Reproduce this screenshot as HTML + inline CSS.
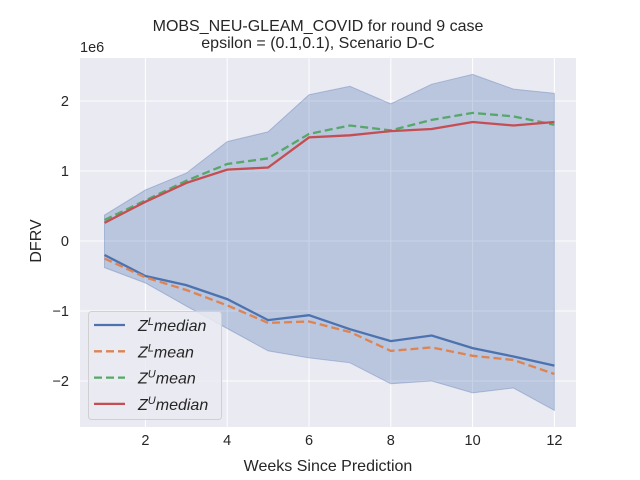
<!DOCTYPE html>
<html><head><meta charset="utf-8"><style>
body{margin:0;background:#fff;}
svg{display:block;font-family:"Liberation Sans",Arial,sans-serif;}
</style></head><body>
<svg id="c" width="640" height="480" viewBox="0 0 640 480"></svg>
<script>
const weeks=[1,2,3,4,5,6,7,8,9,10,11,12];
const zlMedian=[-0.2,-0.5,-0.63,-0.83,-1.13,-1.06,-1.26,-1.43,-1.35,-1.53,-1.65,-1.78];
const zlMean=[-0.25,-0.52,-0.7,-0.92,-1.17,-1.15,-1.3,-1.57,-1.52,-1.64,-1.7,-1.9];
const zuMean=[0.3,0.58,0.86,1.1,1.18,1.53,1.65,1.58,1.73,1.83,1.78,1.66];
const zuMedian=[0.26,0.56,0.83,1.02,1.05,1.48,1.51,1.57,1.6,1.7,1.65,1.7];
const bandUpper=[0.37,0.73,0.97,1.42,1.56,2.09,2.21,1.96,2.24,2.38,2.17,2.11];
const bandLower=[-0.38,-0.6,-0.93,-1.25,-1.57,-1.67,-1.74,-2.04,-2.0,-2.17,-2.1,-2.42];
const xTicks=[2,4,6,8,10,12];
const yTicks=[-2,-1,0,1,2];
const yTickLabels=["\u22122","\u22121","0","1","2"];

const L=80,R=576,T=58,B=427;
const X=v=>104.5+(v-1)*40.9;
const Y=v=>241-v*70;
const svg=document.getElementById('c');
const NS='http://www.w3.org/2000/svg';
function mk(tag,attrs,parent){const e=document.createElementNS(NS,tag);for(const k in attrs)e.setAttribute(k,attrs[k]);(parent||svg).appendChild(e);return e;}

const bg=mk('rect',{x:L,y:T,width:R-L,height:B-T,fill:'#eaeaf2'});


xTicks.forEach(t=>{
  const g=mk('line',{x1:X(t),x2:X(t),y1:T,y2:B,stroke:'#fff','stroke-width':1});
  
  
  const tx=mk('text',{x:X(t),y:B+18,'text-anchor':'middle','font-size':14.5,fill:'#262626'});tx.textContent=t;
  
  
});
yTicks.forEach((t,i)=>{
  const g=mk('line',{x1:L,x2:R,y1:Y(t),y2:Y(t),stroke:'#fff','stroke-width':1});
  
  
  const tx=mk('text',{x:L-11,y:Y(t)+5,'text-anchor':'end','font-size':14.5,fill:'#262626'});tx.textContent=yTickLabels[i];
  
  
});
let pts=weeks.map((w,i)=>X(w)+','+Y(bandUpper[i]));
pts=pts.concat(weeks.slice().reverse().map((w,j)=>{const i=weeks.length-1-j;return X(w)+','+Y(bandLower[i]);}));
const band=mk('polygon',{points:pts.join(' '),fill:'rgba(76,114,176,0.3)',stroke:'rgba(76,114,176,0.35)','stroke-width':1});


function line(arr,color,dash,name){
  const p=mk('polyline',{points:weeks.map((w,i)=>X(w)+','+Y(arr[i])).join(' '),fill:'none',stroke:color,'stroke-width':2.3,'stroke-dasharray':dash||'none'});
  
  
}
line(zlMedian,'#4c72b0',null,'zl-median-line');
line(zlMean,'#dd8452','8,4','zl-mean-line');
line(zuMean,'#55a868','8,4','zu-mean-line');
line(zuMedian,'#c44e52',null,'zu-median-line');

const lg=mk('rect',{x:88.5,y:311.5,width:133,height:108,rx:3,fill:'rgba(234,234,242,0.85)',stroke:'#d0d0d0'});


const entries=[['#4c72b0',null,'L','median'],['#dd8452','8,4','L','mean'],['#55a868','8,4','U','mean'],['#c44e52',null,'U','median']];
entries.forEach((e,i)=>{
  const y=325+i*26.3;
  const l=mk('line',{x1:94,x2:125,y1:y,y2:y,stroke:e[0],'stroke-width':2.3,'stroke-dasharray':e[1]||'none'});
  
  
  const t=mk('text',{x:138,y:y+6,'font-size':16,'font-style':'italic',fill:'#262626'});
  
  
  t.innerHTML='Z<tspan dy="-6" font-size="11">'+e[2]+'</tspan><tspan dy="6">'+e[3]+'</tspan>';
});

function txt(s,attrs,name){const t=mk('text',Object.assign({fill:'#262626'},attrs));t.textContent=s;return t;}
txt('MOBS_NEU-GLEAM_COVID for round 9 case',{x:318,y:31,'text-anchor':'middle','font-size':16},'chart-title');
txt('epsilon = (0.1,0.1), Scenario D-C',{x:318,y:48,'text-anchor':'middle','font-size':16},'chart-subtitle');
txt('Weeks Since Prediction',{x:328,y:471,'text-anchor':'middle','font-size':16},'x-axis-title');
txt('DFRV',{x:0,y:0,'text-anchor':'middle','font-size':16,transform:'translate(41,241) rotate(-90)'},'y-axis-title');
txt('1e6',{x:80,y:52,'font-size':14.5},'y-axis-scale');
</script>
</body></html>
